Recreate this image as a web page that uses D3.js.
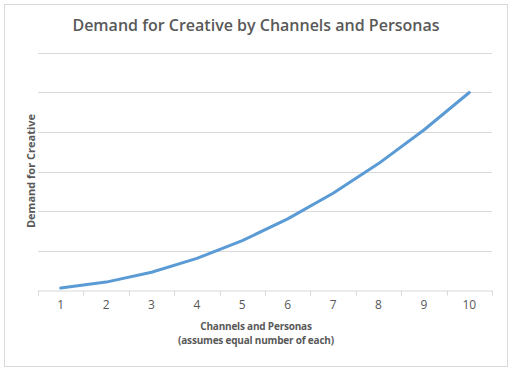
<!DOCTYPE html>
<html>
<head>
<meta charset="utf-8">
<script src="https://cdn.jsdelivr.net/npm/d3@7"></script>
<style>
  body { margin: 0; background: #fff; }
  text { font-family: "Open Sans", "DejaVu Sans", sans-serif; fill: #595959; }
</style>
</head>
<body>
<div id="chart"></div>
<script>
// data
var channels = [1, 2, 3, 4, 5, 6, 7, 8, 9, 10];
var demand = [1, 4, 9, 16, 25, 36, 49, 64, 81, 100];
var yTicks = [0, 20, 40, 60, 80, 100, 120];

var svgWidth = 512;
var svgHeight = 371;

var margin = { top: 53, right: 20, bottom: 81, left: 38 };
var width = 492 - margin.left;
var height = 290 - margin.top;

var svg = d3.select("#chart")
  .append("svg")
  .attr("width", svgWidth)
  .attr("height", svgHeight);

// chart border
svg.append("rect")
  .attr("x", 4.5)
  .attr("y", 4.5)
  .attr("width", 503)
  .attr("height", 362)
  .attr("fill", "#fff")
  .attr("stroke", "#d9d9d9");

var chartGroup = svg.append("g")
  .attr("transform", `translate(${margin.left}, ${margin.top})`);

var xScale = d3.scaleBand()
  .domain(channels)
  .range([0, width]);

var yScale = d3.scaleLinear()
  .domain([0, 120])
  .range([height, 0]);

// gridlines
chartGroup.selectAll(".grid")
  .data(yTicks.slice(1))
  .enter()
  .append("line")
  .attr("x1", 0)
  .attr("x2", width)
  .attr("y1", d => Math.round(yScale(d)) + 0.5)
  .attr("y2", d => Math.round(yScale(d)) + 0.5)
  .attr("stroke", "#d9d9d9")
  .attr("stroke-width", 1);

// x axis
var bottomAxis = d3.axisBottom(xScale).tickSize(0).tickPadding(10);
var xAxis = chartGroup.append("g")
  .attr("transform", `translate(0, ${Math.round(height) + 0.5})`)
  .call(bottomAxis);
xAxis.select(".domain").attr("stroke", "#d9d9d9");
xAxis.selectAll("text")
  .attr("font-size", 12)
  .style("fill", "#595959")
  .style("font-family", "Open Sans, sans-serif");

// tick marks between categories
var bounds = channels.map(d => xScale(d)).concat([width]);
xAxis.selectAll(".sep")
  .data(bounds)
  .enter()
  .append("line")
  .attr("x1", d => Math.round(d) + 0.5)
  .attr("x2", d => Math.round(d) + 0.5)
  .attr("y1", 0)
  .attr("y2", 5)
  .attr("stroke", "#d9d9d9");

// line
var line = d3.line()
  .x((d, i) => xScale(channels[i]) + xScale.bandwidth() / 2)
  .y(d => yScale(d));

chartGroup.append("path")
  .datum(demand)
  .attr("d", line)
  .attr("fill", "none")
  .attr("stroke", "#5b9bd5")
  .attr("stroke-width", 3)
  .attr("stroke-linejoin", "round")
  .attr("stroke-linecap", "round");

// title
svg.append("text")
  .attr("x", 256)
  .attr("y", 31)
  .attr("text-anchor", "middle")
  .attr("font-size", 16)
  .attr("font-weight", "600")
  .text("Demand for Creative by Channels and Personas");

// y axis title
svg.append("text")
  .attr("transform", "rotate(-90)")
  .attr("x", -171)
  .attr("y", 35)
  .attr("text-anchor", "middle")
  .attr("font-size", 11)
  .attr("font-weight", "bold")
  .text("Demand for Creative");

// x axis title
svg.append("text")
  .attr("x", 256)
  .attr("y", 330)
  .attr("text-anchor", "middle")
  .attr("font-size", 10)
  .attr("font-weight", "bold")
  .attr("letter-spacing", -0.2)
  .text("Channels and Personas");

svg.append("text")
  .attr("x", 256)
  .attr("y", 344)
  .attr("text-anchor", "middle")
  .attr("font-size", 10)
  .attr("font-weight", "bold")
  .attr("letter-spacing", -0.2)
  .text("(assumes equal number of each)");
</script>
</body>
</html>
